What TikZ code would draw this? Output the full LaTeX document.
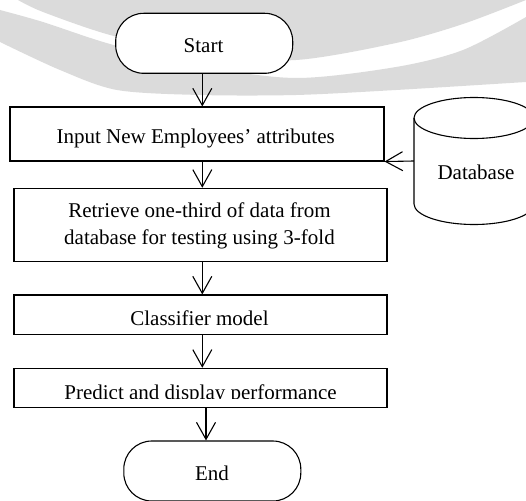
\documentclass[tikz,border=0pt]{standalone}
\usepackage{fontspec}
\setmainfont{Liberation Serif}
\usetikzlibrary{arrows.meta}
\begin{document}
\begin{tikzpicture}[x=1pt,y=-1pt,
  flow/.style={draw=black, line width=1.1pt, fill=white, inner sep=0pt},
  procbox/.style={flow, rectangle},
  termbox/.style={flow, rectangle, rounded corners=28pt, minimum width=177pt, minimum height=60pt},
  lbl/.style={anchor=base, inner sep=0pt, font=\fontsize{21}{26.3}\selectfont, align=center},
  conn/.style={line width=1.1pt, -{Straight Barb[length=17pt,width=19pt]}},
  wm/.style={fill=black!14, draw=none}]
\useasboundingbox (0,0) rectangle (526,500);
\clip (0,0) rectangle (526,500);
% faint background watermark
\fill[wm] plot[smooth] coordinates {(18,0) (43,12) (110,35) (200,55) (296,60) (396,43) (463,24) (526,0)} -- cycle;
\fill[wm] plot[smooth] coordinates {(0,10) (43,22) (110,44) (200,66) (296,78) (396,67) (463,50) (526,17)}
  -- (526,82) -- plot[smooth] coordinates {(526,82) (396,90) (296,95) (200,95) (117,90) (60,70) (0,42)} -- cycle;
% shapes
\node[termbox] (start) at (204.2,43.3) {};
\node[procbox, minimum width=374pt, minimum height=54pt] (b1) at (197,134) {};
\node[procbox, minimum width=373pt, minimum height=73.4pt] (b2) at (200.5,225) {};
\node[procbox, minimum width=373pt, minimum height=39.3pt] (b3) at (200.5,314.65) {};
\node[procbox, minimum width=373pt, minimum height=39pt] (b4) at (200.5,387.8) {};
\node[termbox] (end) at (212.3,471) {};
% database cylinder
\fill[white] (414,118) -- (414,204) arc[start angle=180, end angle=0, x radius=60, y radius=20.5] -- (534,118) -- cycle;
\fill[white] (474,118) ellipse[x radius=60, y radius=20.5];
\draw[line width=1.1pt] (414,118) -- (414,204) arc[start angle=180, end angle=0, x radius=60, y radius=20.5] -- (534,118);
\draw[line width=1.1pt] (474,118) ellipse[x radius=60, y radius=20.5];
\node[inner sep=0pt, minimum width=120pt, minimum height=86pt] (db) at (474,161) {};
% texts
\node[lbl] (tstart) at (203.5,52.7) {Start};
\node[lbl] (t1) at (195.7,143.3) {Input New Employees’ attributes};
\node[lbl] (t2) at (199.5,244) {Retrieve one-third of data from\\database for testing using 3-fold};
\node[lbl] (t3) at (199.5,325) {Classifier model};
\begin{scope}
\clip (0,369) rectangle (526,398.6);
\node[lbl] (t4) at (200.5,399) {Predict and display performance};
\end{scope}
\node[lbl] (tend) at (212,480.7) {End};
\node[lbl] (tdb) at (476,179) {Database};
% connectors
\coordinate (ax) at (202.3,0);
\coordinate (ex) at (206,0);
\draw[conn] (ax |- start.south) -- (ax |- b1.north);
\draw[conn] (ax |- b1.south) -- (ax |- b2.north);
\draw[conn] (ax |- b2.south) -- (ax |- b3.north);
\draw[conn] (ax |- b3.south) -- (ax |- b4.north);
\draw[conn] (ex |- b4.south) -- (ex |- end.north);
\draw[conn] (db.west) -- (b1.south east);
\end{tikzpicture}
\end{document}
